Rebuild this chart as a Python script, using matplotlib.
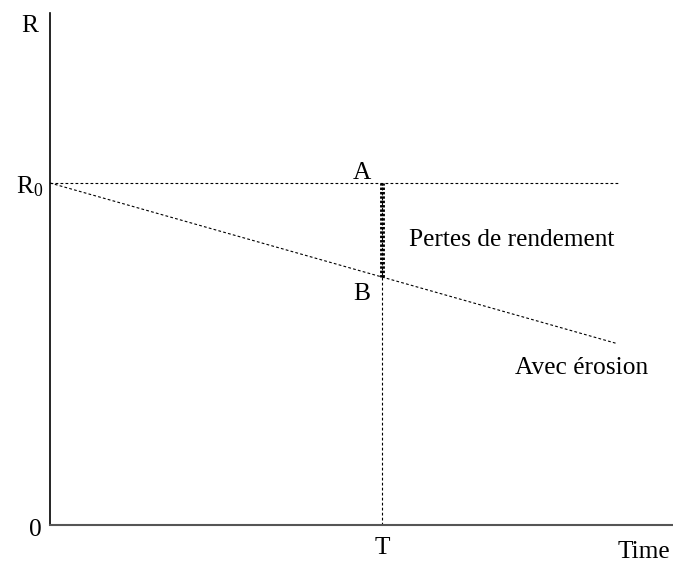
import matplotlib.pyplot as plt

# Schematic: yield R over time, with and without erosion
r0 = 1.0
t_mark = 1.0          # time T
t_end = 1.71          # end of drawn curves
erosion_times = [0.0, t_end]
erosion_yield = [1.0, 0.53]
b_yield = 0.725       # yield at T with erosion
x_max = 1.877
y_max = 1.497

plt.rcParams["font.family"] = ["Liberation Serif", "DejaVu Serif"]
plt.rcParams["mathtext.fontset"] = "custom"
plt.rcParams["mathtext.rm"] = "Liberation Serif"
plt.rcParams["mathtext.it"] = "Liberation Serif:italic"

fig = plt.figure(figsize=(6.73, 5.62), dpi=100)
ax = fig.add_axes([50 / 673, 37 / 562, 623 / 673, 512 / 562])
ax.set_xlim(0, x_max)
ax.set_ylim(0, y_max)
ax.set_xticks([])
ax.set_yticks([])
for s in ["top", "right"]:
    ax.spines[s].set_visible(False)
ax.spines["left"].set_linewidth(1.2)
ax.spines["bottom"].set_linewidth(1.5)
ax.spines["bottom"].set_color("#555555")

dot = dict(color="black", linewidth=0.8, linestyle=(0, (2.5, 2)))
# without erosion (constant yield)
ax.plot([0, t_end], [r0, r0], **dot)
# with erosion
ax.plot(erosion_times, erosion_yield, **dot)
# vertical at T
ax.plot([t_mark, t_mark], [0, r0], **dot)
# yield loss segment A-B
ax.plot([t_mark, t_mark], [b_yield, r0], color="black", linewidth=3.5,
        linestyle=(0, (0.5, 0.4)))

fs = 18.3
ax.text(-0.06, 1.46, "R", fontsize=fs, ha="center", va="center", clip_on=False)
ax.text(-0.06, r0 - 0.01, r"$\mathrm{R}_0$", fontsize=fs, ha="center", va="center",
        clip_on=False)
ax.text(-0.045, -0.015, "0", fontsize=fs, ha="center", va="center", clip_on=False)
ax.text(t_mark, -0.067, "T", fontsize=fs, ha="center", va="center", clip_on=False)
ax.text(1.868, -0.079, "Time", fontsize=fs, ha="right", va="center", clip_on=False)
ax.text(0.94, 1.03, "A", fontsize=fs, ha="center", va="center")
ax.text(0.94, 0.675, "B", fontsize=fs, ha="center", va="center")
ax.text(1.083, 0.833, "Pertes de rendement", fontsize=fs, ha="left", va="center")
ax.text(1.40, 0.459, "Avec érosion", fontsize=fs, ha="left", va="center")

fig.savefig("out.png", dpi=100)
